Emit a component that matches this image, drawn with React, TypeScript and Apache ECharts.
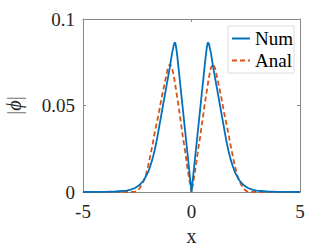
import React, { useEffect, useRef } from "react";
import * as echarts from "echarts";

const xTicks = [-5, 0, 5];
const yTicks = [0, 0.05, 0.1];
const seriesNames = ["Num", "Anal"];

const xNum = [-5, -4.5, -4, -3.5, -3, -2.8, -2.6, -2.4, -2.2, -2, -1.9, -1.8, -1.7, -1.6, -1.5, -1.4, -1.3, -1.2, -1.1, -1, -0.9, -0.8, -0.75, -0.7, -0.65, -0.6, -0.5, -0.4, -0.3, -0.2, -0.1, 0, 0.1, 0.2, 0.3, 0.4, 0.5, 0.6, 0.65, 0.7, 0.75, 0.8, 0.9, 1, 1.1, 1.2, 1.3, 1.4, 1.5, 1.6, 1.7, 1.8, 1.9, 2, 2.2, 2.4, 2.6, 2.8, 3, 3.5, 4, 4.5, 5];
const yNum = [0, 0.00003, 0.0001, 0.0003, 0.0008, 0.0014, 0.0023, 0.004, 0.0068, 0.0115, 0.015, 0.019, 0.024, 0.03, 0.037, 0.044, 0.051, 0.058, 0.065, 0.072, 0.08, 0.0858, 0.0865, 0.083, 0.078, 0.072, 0.06, 0.048, 0.036, 0.024, 0.012, 0, 0.012, 0.024, 0.036, 0.048, 0.06, 0.072, 0.078, 0.083, 0.0865, 0.0858, 0.08, 0.072, 0.065, 0.058, 0.051, 0.044, 0.037, 0.03, 0.024, 0.019, 0.015, 0.0115, 0.0068, 0.004, 0.0023, 0.0014, 0.0008, 0.0003, 0.0001, 0.00003, 0];

const xAnal = [-5, -4, -3, -2.7, -2.6, -2.5, -2.4, -2.3, -2.2, -2.1, -2, -1.9, -1.8, -1.7, -1.6, -1.5, -1.4, -1.3, -1.2, -1.1, -1, -0.9, -0.8, -0.7, -0.6, -0.5, -0.4, -0.3, -0.2, -0.1, 0, 0.1, 0.2, 0.3, 0.4, 0.5, 0.6, 0.7, 0.8, 0.9, 1, 1.1, 1.2, 1.3, 1.4, 1.5, 1.6, 1.7, 1.8, 1.9, 2, 2.1, 2.2, 2.3, 2.4, 2.5, 2.6, 2.7, 3, 4, 5];
const yAnal = [0, 0, 0, 0, 0.0002, 0.0008, 0.002, 0.004, 0.0065, 0.01, 0.015, 0.021, 0.027, 0.034, 0.04, 0.046, 0.053, 0.059, 0.065, 0.071, 0.074, 0.072, 0.066, 0.058, 0.05, 0.041, 0.032, 0.024, 0.015, 0.007, 0, 0.007, 0.015, 0.024, 0.032, 0.041, 0.05, 0.058, 0.066, 0.072, 0.074, 0.071, 0.065, 0.059, 0.053, 0.046, 0.04, 0.034, 0.027, 0.021, 0.015, 0.01, 0.0065, 0.004, 0.002, 0.0008, 0.0002, 0, 0, 0, 0];

const FONT = "Liberation Serif, Times New Roman, serif";
const AXIS_COLOR = "#8a8a8a";
const TEXT_COLOR = "#262626";

export default function App() {
  const ref = useRef<HTMLDivElement>(null);
  useEffect(() => {
    if (!ref.current) return;
    const chart = echarts.init(ref.current, undefined, { renderer: "svg" });
    const axisBase = {
      axisLine: { show: true, onZero: false, lineStyle: { color: AXIS_COLOR, width: 1 } },
      axisTick: { show: true, inside: true, length: 3, lineStyle: { color: AXIS_COLOR } },
      splitLine: { show: false },
    };
    chart.setOption({
      animation: false,
      backgroundColor: "#ffffff",
      textStyle: { fontFamily: FONT },
      grid: { left: 83, right: 32, top: 19, bottom: 57, containLabel: false, outerBoundsMode: "none" },
      legend: {
        left: 228,
        top: 26,
        orient: "vertical",
        data: seriesNames,
        backgroundColor: "#ffffff",
        borderColor: "#dcdcdc",
        borderWidth: 1,
        padding: [3, 1, 3, 3],
        itemGap: 3,
        itemWidth: 18,
        itemHeight: 14,
        itemStyle: { opacity: 0 },
        textStyle: { fontFamily: FONT, fontSize: 19, color: "#000" },
      },
      xAxis: [
        {
          type: "value",
          min: xTicks[0],
          max: xTicks[xTicks.length - 1],
          interval: xTicks[1] - xTicks[0],
          position: "bottom",
          name: "x",
          nameLocation: "middle",
          nameGap: 34,
          nameTextStyle: { fontFamily: FONT, fontSize: 20, color: TEXT_COLOR },
          axisLabel: { fontFamily: FONT, fontSize: 19, color: TEXT_COLOR, margin: 10 },
          ...axisBase,
        },
        {
          type: "value",
          min: xTicks[0],
          max: xTicks[xTicks.length - 1],
          interval: xTicks[1] - xTicks[0],
          position: "top",
          axisLabel: { show: false },
          ...axisBase,
        },
      ],
      yAxis: [
        {
          type: "value",
          min: yTicks[0],
          max: yTicks[yTicks.length - 1],
          interval: yTicks[1] - yTicks[0],
          position: "left",
          name: "{n||}{i|ϕ}{n||}",
          nameLocation: "middle",
          nameGap: 59,
          nameTextStyle: {
            fontFamily: FONT,
            fontSize: 20,
            color: TEXT_COLOR,
            rich: {
              n: { fontFamily: FONT, fontSize: 20, color: "#777" },
              i: { fontFamily: FONT, fontSize: 20, fontStyle: "italic", color: TEXT_COLOR },
            },
          },
          axisLabel: { fontFamily: FONT, fontSize: 19, color: TEXT_COLOR, margin: 8 },
          ...axisBase,
        },
        {
          type: "value",
          min: yTicks[0],
          max: yTicks[yTicks.length - 1],
          interval: yTicks[1] - yTicks[0],
          position: "right",
          axisLabel: { show: false },
          ...axisBase,
        },
      ],
      series: [
        {
          name: seriesNames[0],
          type: "line",
          showSymbol: false,
          symbol: "none",
          data: xNum.map((x, i) => [x, yNum[i]]),
          lineStyle: { color: "#0072BD", width: 1.8 },
          itemStyle: { color: "#0072BD" },
          z: 3,
        },
        {
          name: seriesNames[1],
          type: "line",
          showSymbol: false,
          symbol: "none",
          data: xAnal.map((x, i) => [x, yAnal[i]]),
          lineStyle: { color: "#D95319", width: 1.8, type: [5, 3] },
          itemStyle: { color: "#D95319" },
          z: 2,
        },
      ],
    });
    return () => chart.dispose();
  }, []);
  return <div ref={ref} style={{ width: 332, height: 249, position: "absolute", left: 0, top: 0 }} />;
}
